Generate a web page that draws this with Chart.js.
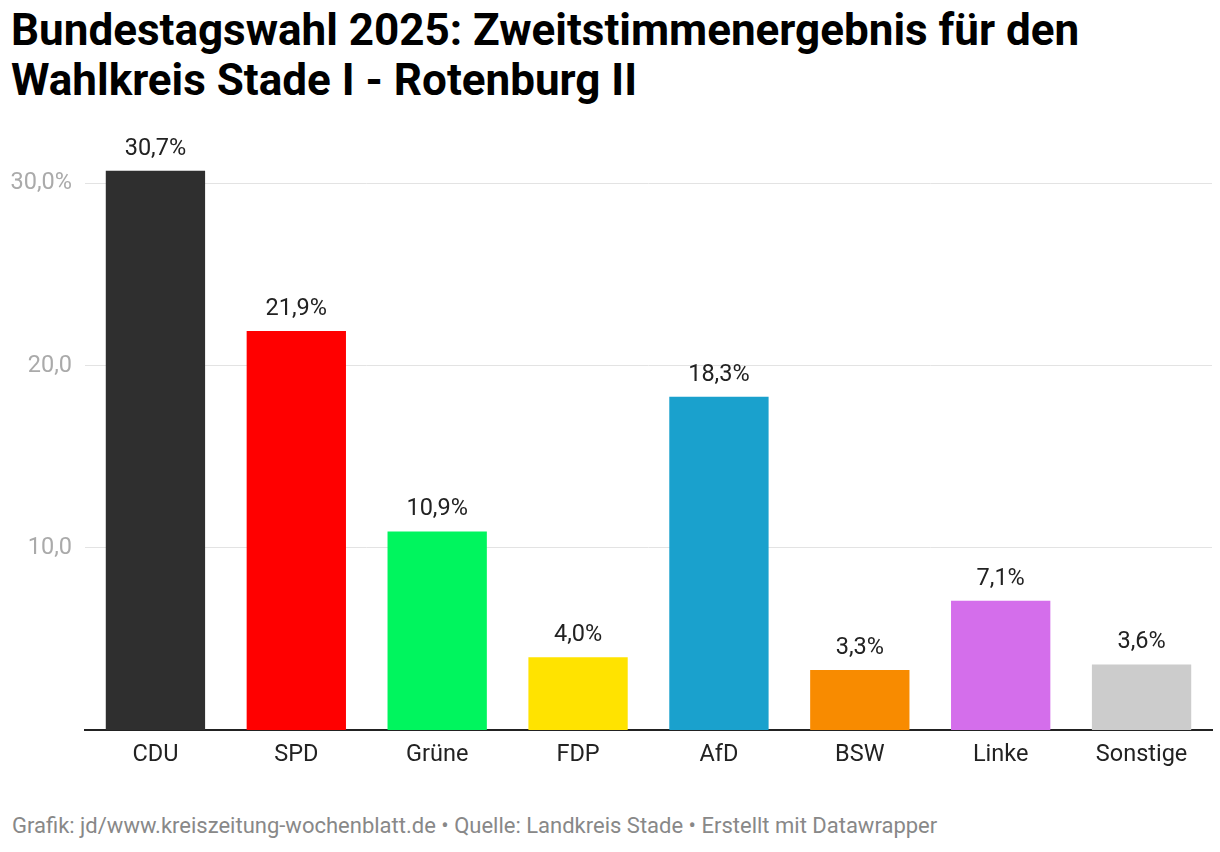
<!DOCTYPE html>
<html lang="de">
<head>
    <meta charset="UTF-8">
    <title>Bundestagswahl 2025 - Stade I - Rotenburg II</title>
    <script src="https://cdn.jsdelivr.net/npm/chart.js"></script>
    <style>
        html, body { margin: 0; padding: 0; background: #fff; }
        body { width: 1220px; height: 852px; position: relative; overflow: hidden; font-family: Roboto, sans-serif; }
        h1 {
            position: absolute; left: 11px; top: 5px; margin: 0;
            font-size: 44px; line-height: 50px; font-weight: 700; color: #000;
        }
        .chart-wrap { position: absolute; left: 0; top: 120px; width: 1220px; height: 670px; }
        .footer {
            position: absolute; left: 12px; top: 813px;
            font-size: 22px; color: #888;
        }
    </style>
</head>
<body>
    <h1>Bundestagswahl 2025: Zweitstimmenergebnis für den<br>Wahlkreis Stade I - Rotenburg II</h1>
    <div class="chart-wrap"><canvas id="chart"></canvas></div>
    <div class="footer">Grafik: jd/www.kreiszeitung-wochenblatt.de • Quelle: Landkreis Stade • Erstellt mit Datawrapper</div>

    <script>
        const parties = ['CDU', 'SPD', 'Grüne', 'FDP', 'AfD', 'BSW', 'Linke', 'Sonstige'];
        const shares = [30.7, 21.9, 10.9, 4.0, 18.3, 3.3, 7.1, 3.6];
        const partyColors = ['#2f2f2f', '#ff0000', '#00f55e', '#ffe300', '#1aa1cd', '#f88b00', '#d46eeb', '#cccccc'];
        const yTicks = [10, 20, 30];

        const fmt = v => Number(v).toFixed(1).replace('.', ',');

        // value labels above each bar
        const valueLabels = {
            id: 'valueLabels',
            afterDatasetsDraw(chart) {
                const ctx = chart.ctx;
                const meta = chart.getDatasetMeta(0);
                ctx.save();
                ctx.font = '23.5px Roboto';
                ctx.fillStyle = '#222';
                ctx.textAlign = 'center';
                ctx.textBaseline = 'alphabetic';
                meta.data.forEach((bar, i) => {
                    ctx.fillText(fmt(shares[i]) + '%', bar.x, bar.y - 16);
                });
                ctx.restore();
            }
        };

        new Chart(document.getElementById('chart'), {
            type: 'bar',
            data: {
                labels: parties,
                datasets: [{
                    data: shares,
                    backgroundColor: partyColors,
                    borderWidth: 0,
                    categoryPercentage: 1,
                    barPercentage: 0.705
                }]
            },
            options: {
                responsive: true,
                maintainAspectRatio: false,
                animation: false,
                layout: { padding: { top: 23, right: 8, left: 0, bottom: 0 } },
                plugins: {
                    legend: { display: false },
                    tooltip: { enabled: false }
                },
                scales: {
                    x: {
                        grid: { display: false },
                        border: { display: true, color: '#222', width: 2 },
                        ticks: { color: '#222', font: { family: 'Roboto', size: 23.5 }, padding: 3 },
                        afterFit(scale) { scale.height = 60; }
                    },
                    y: {
                        min: 0,
                        max: 32,
                        afterBuildTicks(scale) { scale.ticks = yTicks.map(v => ({ value: v })); },
                        grid: { color: '#e3e3e3', lineWidth: 1, drawTicks: false },
                        border: { display: false },
                        ticks: {
                            color: '#aaa',
                            font: { family: 'Roboto', size: 23.5 },
                            padding: 13,
                            callback: (v, i, all) => i === all.length - 1 ? fmt(v) + '%' : fmt(v)
                        },
                        afterFit(scale) { scale.width = 85; }
                    }
                }
            },
            plugins: [valueLabels]
        });
    </script>
</body>
</html>
